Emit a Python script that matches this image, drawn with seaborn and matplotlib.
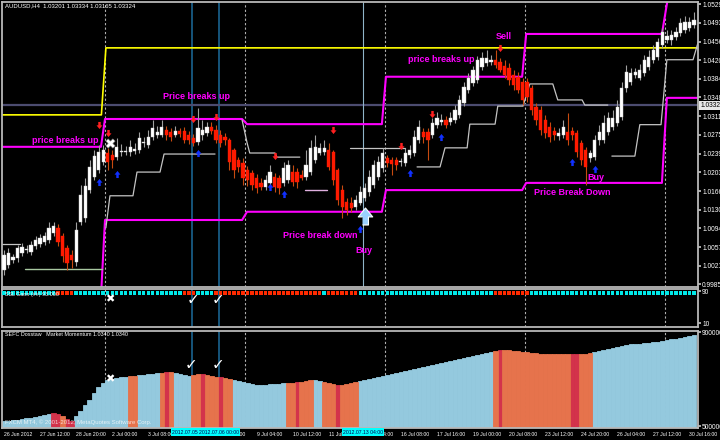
import numpy as np
import pandas as pd
import matplotlib
matplotlib.use("Agg")
import matplotlib.pyplot as plt
import matplotlib.transforms as mtransforms
import seaborn as sns

sns.set_theme(style="dark")
plt.rcParams["font.family"] = ["Liberation Sans", "DejaVu Sans"]

# ---------------- data (AUDUSD H4, 26 Jun - 30 Jul 2012) ----------------
open_ = [1.0013, 1.0023, 1.0033, 1.0037, 1.0046, 1.0052, 1.0048, 1.0060, 1.0063, 1.0067,
         1.0071, 1.0085, 1.0095, 1.0079, 1.0056, 1.0042, 1.0029, 1.0106, 1.0114, 1.0168,
         1.0194, 1.0207, 1.0223, 1.0240, 1.0236, 1.0232, 1.0242, 1.0242, 1.0242, 1.0244,
         1.0246, 1.0259, 1.0256, 1.0271, 1.0275, 1.0275, 1.0285, 1.0281, 1.0275, 1.0283,
         1.0283, 1.0275, 1.0269, 1.0261, 1.0275, 1.0279, 1.0291, 1.0285, 1.0275, 1.0271,
         1.0265, 1.0246, 1.0227, 1.0221, 1.0207, 1.0201, 1.0192, 1.0182, 1.0174, 1.0182,
         1.0194, 1.0192, 1.0182, 1.0188, 1.0203, 1.0203, 1.0197, 1.0194, 1.0203, 1.0227,
         1.0240, 1.0242, 1.0246, 1.0242, 1.0207, 1.0168, 1.0145, 1.0143, 1.0135, 1.0143,
         1.0153, 1.0164, 1.0178, 1.0194, 1.0211, 1.0230, 1.0227, 1.0227, 1.0223, 1.0221,
         1.0236, 1.0240, 1.0265, 1.0281, 1.0281, 1.0275, 1.0295, 1.0300, 1.0304, 1.0300,
         1.0304, 1.0314, 1.0337, 1.0362, 1.0376, 1.0382, 1.0407, 1.0415, 1.0417, 1.0421,
         1.0417, 1.0409, 1.0405, 1.0392, 1.0388, 1.0378, 1.0378, 1.0366, 1.0329, 1.0324,
         1.0304, 1.0291, 1.0283, 1.0273, 1.0275, 1.0281, 1.0283, 1.0279, 1.0259, 1.0246,
         1.0230, 1.0232, 1.0265, 1.0265, 1.0281, 1.0291, 1.0298, 1.0310, 1.0366, 1.0378,
         1.0392, 1.0386, 1.0395, 1.0407, 1.0421, 1.0426, 1.0450, 1.0459, 1.0459, 1.0465,
         1.0473, 1.0479, 1.0483, 1.0488]
close = [1.0042, 1.0046, 1.0038, 1.0056, 1.0058, 1.0054, 1.0062, 1.0071, 1.0075, 1.0079,
         1.0095, 1.0099, 1.0067, 1.0040, 1.0027, 1.0033, 1.0091, 1.0159, 1.0176, 1.0213,
         1.0235, 1.0242, 1.0246, 1.0223, 1.0227, 1.0252, 1.0244, 1.0244, 1.0252, 1.0248,
         1.0269, 1.0261, 1.0271, 1.0289, 1.0281, 1.0291, 1.0275, 1.0271, 1.0283, 1.0277,
         1.0265, 1.0265, 1.0259, 1.0289, 1.0285, 1.0291, 1.0283, 1.0265, 1.0259, 1.0265,
         1.0223, 1.0207, 1.0213, 1.0192, 1.0188, 1.0178, 1.0172, 1.0174, 1.0188, 1.0203,
         1.0174, 1.0172, 1.0211, 1.0217, 1.0184, 1.0184, 1.0192, 1.0217, 1.0250, 1.0252,
         1.0250, 1.0250, 1.0213, 1.0188, 1.0149, 1.0135, 1.0130, 1.0134, 1.0149, 1.0164,
         1.0172, 1.0194, 1.0217, 1.0223, 1.0240, 1.0221, 1.0219, 1.0217, 1.0225, 1.0240,
         1.0246, 1.0271, 1.0291, 1.0271, 1.0265, 1.0298, 1.0308, 1.0304, 1.0295, 1.0308,
         1.0324, 1.0343, 1.0368, 1.0386, 1.0401, 1.0421, 1.0424, 1.0424, 1.0421, 1.0411,
         1.0401, 1.0392, 1.0382, 1.0372, 1.0362, 1.0343, 1.0349, 1.0324, 1.0304, 1.0285,
         1.0279, 1.0271, 1.0275, 1.0279, 1.0291, 1.0265, 1.0275, 1.0242, 1.0227, 1.0213,
         1.0240, 1.0265, 1.0281, 1.0298, 1.0308, 1.0308, 1.0329, 1.0366, 1.0397, 1.0395,
         1.0397, 1.0401, 1.0421, 1.0426, 1.0440, 1.0456, 1.0475, 1.0467, 1.0469, 1.0475,
         1.0492, 1.0494, 1.0494, 1.0498]
high = [1.0052, 1.0056, 1.0044, 1.0062, 1.0065, 1.0062, 1.0069, 1.0079, 1.0083, 1.0087,
        1.0106, 1.0106, 1.0102, 1.0085, 1.0062, 1.0052, 1.0106, 1.0178, 1.0192, 1.0227,
        1.0246, 1.0256, 1.0256, 1.0250, 1.0246, 1.0269, 1.0258, 1.0254, 1.0265, 1.0259,
        1.0281, 1.0271, 1.0285, 1.0304, 1.0293, 1.0304, 1.0293, 1.0289, 1.0293, 1.0289,
        1.0291, 1.0283, 1.0277, 1.0328, 1.0304, 1.0300, 1.0300, 1.0295, 1.0285, 1.0279,
        1.0269, 1.0250, 1.0232, 1.0230, 1.0215, 1.0207, 1.0199, 1.0192, 1.0197, 1.0217,
        1.0201, 1.0197, 1.0223, 1.0227, 1.0217, 1.0211, 1.0207, 1.0246, 1.0265, 1.0275,
        1.0259, 1.0265, 1.0259, 1.0246, 1.0211, 1.0178, 1.0153, 1.0155, 1.0159, 1.0176,
        1.0182, 1.0207, 1.0227, 1.0234, 1.0250, 1.0236, 1.0232, 1.0232, 1.0230, 1.0250,
        1.0256, 1.0285, 1.0304, 1.0289, 1.0289, 1.0308, 1.0320, 1.0316, 1.0312, 1.0320,
        1.0333, 1.0353, 1.0378, 1.0395, 1.0409, 1.0428, 1.0436, 1.0440, 1.0430, 1.0440,
        1.0424, 1.0421, 1.0415, 1.0401, 1.0397, 1.0386, 1.0386, 1.0372, 1.0337, 1.0331,
        1.0314, 1.0300, 1.0291, 1.0289, 1.0304, 1.0318, 1.0291, 1.0285, 1.0265, 1.0252,
        1.0246, 1.0275, 1.0295, 1.0314, 1.0320, 1.0324, 1.0343, 1.0378, 1.0411, 1.0405,
        1.0405, 1.0413, 1.0430, 1.0440, 1.0450, 1.0463, 1.0483, 1.0479, 1.0479, 1.0485,
        1.0502, 1.0506, 1.0504, 1.0514]
low = [1.0003, 1.0017, 1.0027, 1.0029, 1.0040, 1.0046, 1.0042, 1.0054, 1.0058, 1.0062,
       1.0065, 1.0079, 1.0060, 1.0029, 1.0013, 1.0017, 1.0021, 1.0101, 1.0106, 1.0162,
       1.0188, 1.0201, 1.0217, 1.0207, 1.0211, 1.0227, 1.0234, 1.0236, 1.0234, 1.0238,
       1.0240, 1.0252, 1.0250, 1.0265, 1.0269, 1.0271, 1.0265, 1.0263, 1.0271, 1.0271,
       1.0259, 1.0257, 1.0254, 1.0256, 1.0265, 1.0273, 1.0277, 1.0259, 1.0252, 1.0256,
       1.0207, 1.0192, 1.0203, 1.0178, 1.0176, 1.0168, 1.0162, 1.0168, 1.0168, 1.0176,
       1.0165, 1.0160, 1.0176, 1.0182, 1.0176, 1.0172, 1.0188, 1.0188, 1.0197, 1.0221,
       1.0236, 1.0236, 1.0207, 1.0178, 1.0139, 1.0114, 1.0120, 1.0126, 1.0130, 1.0139,
       1.0147, 1.0157, 1.0172, 1.0188, 1.0203, 1.0213, 1.0197, 1.0207, 1.0215, 1.0215,
       1.0230, 1.0234, 1.0259, 1.0259, 1.0227, 1.0269, 1.0289, 1.0295, 1.0289, 1.0295,
       1.0298, 1.0308, 1.0331, 1.0356, 1.0370, 1.0376, 1.0401, 1.0409, 1.0411, 1.0405,
       1.0397, 1.0386, 1.0372, 1.0362, 1.0356, 1.0333, 1.0339, 1.0314, 1.0295, 1.0275,
       1.0269, 1.0262, 1.0265, 1.0265, 1.0269, 1.0256, 1.0265, 1.0232, 1.0217, 1.0178,
       1.0223, 1.0227, 1.0256, 1.0259, 1.0275, 1.0285, 1.0293, 1.0304, 1.0358, 1.0372,
       1.0386, 1.0382, 1.0390, 1.0401, 1.0415, 1.0421, 1.0444, 1.0453, 1.0450, 1.0459,
       1.0467, 1.0473, 1.0477, 1.0483]

# market momentum histogram (millions)
momentum = [5.21, 5.21, 5.26, 5.26, 5.30, 5.34, 5.34, 5.38, 5.43, 5.47, 5.51, 5.55,
            5.51, 5.43, 5.30, 5.21,
            5.43, 5.64, 5.89, 6.11, 6.40, 6.66, 6.83,
            6.96, 7.00, 7.04, 7.08, 7.08, 7.13, 7.13, 7.17, 7.17, 7.21, 7.21, 7.26, 7.26, 7.30,
            7.30, 7.26, 7.21, 7.17, 7.13, 7.17, 7.21, 7.21, 7.17, 7.13, 7.08, 7.08, 7.04,
            7.00, 6.96, 6.91, 6.87, 6.83, 6.79, 6.74, 6.74, 6.74, 6.79, 6.79, 6.79, 6.83, 6.83, 6.83, 6.87, 6.87,
            6.91, 6.96, 6.96, 6.91, 6.87, 6.83, 6.79, 6.74, 6.74, 6.79, 6.83, 6.87, 6.91, 6.96, 7.00, 7.04, 7.08, 7.13,
            7.17, 7.21, 7.26, 7.30, 7.34, 7.38, 7.43, 7.47, 7.51, 7.55, 7.60, 7.64, 7.68, 7.72, 7.77, 7.81,
            7.85, 7.89, 7.94, 7.98, 8.02, 8.06, 8.11, 8.15, 8.19, 8.23,
            8.23, 8.23, 8.19, 8.19, 8.15, 8.15, 8.11, 8.11, 8.06, 8.06, 8.06, 8.06,
            8.06, 8.06, 8.06, 8.06, 8.06, 8.06, 8.06, 8.11, 8.15, 8.19, 8.23, 8.28, 8.32, 8.36, 8.40,
            8.45, 8.47, 8.49, 8.51, 8.53, 8.55, 8.57, 8.59, 8.62, 8.66, 8.70, 8.72, 8.74, 8.79, 8.83, 8.87]
# colour state of each histogram bar: b = rising (blue), o = falling (orange), r = strong fall (crimson)
hist_runs = [("b", 11), ("r", 2), ("o", 1), ("r", 2), ("b", 12), ("o", 2), ("b", 5), ("o", 1), ("r", 1),
             ("o", 1), ("b", 4), ("o", 2), ("r", 1), ("o", 3), ("r", 1), ("o", 2), ("b", 12),
             ("o", 2), ("r", 1), ("o", 3), ("b", 2), ("o", 3), ("r", 1), ("o", 4), ("b", 30),
             ("o", 1), ("r", 1), ("o", 15), ("r", 2), ("o", 3), ("b", 23)]
strip_runs = [("c", 12), ("r", 4), ("c", 24), ("r", 3), ("c", 4), ("r", 24), ("c", 1), ("r", 7),
              ("c", 30), ("r", 8), ("c", 37)]

# indicator levels (bar position, price)
yellow_x = [-0.5, 21.6, 22.6, 154.5]
yellow_y = [1.0314, 1.0314, 1.0444, 1.0444]
upper_x = [-0.5, 21.5, 22.4, 52.8, 53.9, 83.8, 84.7, 114.9, 115.8, 145.9, 147.3]
upper_y = [1.0252, 1.0252, 1.0306, 1.0306, 1.0296, 1.0296, 1.0388, 1.0388, 1.0471, 1.0471, 1.0545]
lower_x = [-0.5, 21.5, 22.4, 52.8, 53.9, 83.8, 84.7, 114.9, 115.8, 145.9, 147.0, 154.5]
lower_y = [0.9960, 0.9960, 1.0110, 1.0110, 1.0126, 1.0126, 1.0168, 1.0168, 1.0182, 1.0182, 1.0347, 1.0347]
trail_segments = [
    ([-0.5, 3.5], [1.0064, 1.0064]),
    ([22.6, 23.5, 28.6, 29.5, 34.6, 35.5, 46.8], [1.0095, 1.0157, 1.0157, 1.0203, 1.0203, 1.0238, 1.0238]),
    ([52.8, 53.9, 54.5, 60.1, 60.5, 65.6], [1.0304, 1.0260, 1.0240, 1.0240, 1.0232, 1.0232]),
    ([76.7, 88.9], [1.0250, 1.0250]),
    ([91.6, 96.7, 97.8, 102.7, 103.3, 108.9, 109.5, 115.1, 116.6, 121.7, 122.8, 128.2, 128.8, 133.9],
     [1.0213, 1.0213, 1.0250, 1.0250, 1.0296, 1.0296, 1.0331, 1.0331, 1.0374, 1.0374, 1.0343, 1.0343, 1.0333, 1.0333]),
    ([134.8, 139.9, 141.0, 145.7, 147.0, 152.8, 153.9], [1.0234, 1.0234, 1.0295, 1.0295, 1.0421, 1.0421, 1.0454]),
]
green_x, green_y = [4.7, 21.7], [1.0015, 1.0015]
lilac_x, lilac_y = [66.7, 71.6], [1.0168, 1.0168]
sell_arrows_x = [21, 23, 42, 47, 60, 73, 88, 95, 110]
sell_arrows_y = [1.0295, 1.0279, 1.0306, 1.0310, 1.0234, 1.0285, 1.0254, 1.0316, 1.0444]
buy_arrows_x = [21, 25, 43, 59, 62, 79, 90, 97, 126, 131]
buy_arrows_y = [1.0184, 1.0199, 1.0240, 1.0174, 1.0161, 1.0093, 1.0201, 1.0271, 1.0223, 1.0209]
current_price = 1.03324
price_ticks = [0.99850, 1.00210, 1.00570, 1.00940, 1.01300, 1.01660, 1.02030, 1.02390,
               1.02750, 1.03110, 1.03480, 1.03840, 1.04200, 1.04560, 1.04930, 1.05290]
time_ticks = list(range(0, 153, 8))
time_labels = ["26 Jun 2012", "27 Jun 12:00", "28 Jun 20:00", "2 Jul 00:00", "3 Jul 08:00",
               "4 Jul 16:00", "6 Jul 00:00", "9 Jul 04:00", "10 Jul 12:00", "11 Jul 20:00",
               "13 Jul 04:00", "16 Jul 08:00", "17 Jul 16:00", "19 Jul 00:00", "20 Jul 08:00",
               "23 Jul 12:00", "24 Jul 20:00", "26 Jul 04:00", "27 Jul 12:00", "30 Jul 16:00"]
week_seps = [22.5, 53.5, 84.5, 115.5, 146.5]
blue_vlines = [41.7, 47.7]
buy_vline = 79.6

# ---------------- figure ----------------
W, H = 720, 440
fig = plt.figure(figsize=(7.2, 4.4), dpi=100, facecolor="black")

def px_axes(x0, y0, x1, y1):
    return fig.add_axes([x0 / W, 1 - y1 / H, (x1 - x0) / W, (y1 - y0) / H])

ax1 = px_axes(2, 2, 698, 287)
ax2 = px_axes(2, 289, 698, 327)
ax3 = px_axes(2, 331, 698, 428)
XL = (-0.44, 153.9)
for ax in (ax1, ax2, ax3):
    ax.set_facecolor("black")
    ax.set_xlim(*XL)
    ax.grid(False)
    for s in ax.spines.values():
        s.set_color("#b8b8b8")
        s.set_linewidth(1.3)
    ax.yaxis.tick_right()
    ax.tick_params(axis="y", colors="#c0c0c0", labelcolor="white", labelsize=4.8, length=2, pad=1)
    for v in week_seps:
        ax.axvline(v, color="#b0b0b0", lw=0.8, ls=(0, (2, 2)), zorder=1)
    for v in blue_vlines:
        ax.axvline(v, color="#1c6c9c", lw=1.1, zorder=1)
ax1.set_xticks([]); ax2.set_xticks([])

# ---- main price panel ----
o = np.array(open_); c = np.array(close); h = np.array(high); l = np.array(low)
n = len(c)
idx = np.arange(n)
bull = c >= o
ax1.axhline(current_price, color="#4c4c70", lw=1.6, zorder=1)
ax1.axvline(buy_vline, color="#8fb4c8", lw=0.8, zorder=1)
ax1.plot(yellow_x, yellow_y, color="#ffff00", lw=1.2, zorder=2)
ax1.plot(upper_x, upper_y, color="#ff00ff", lw=1.5, zorder=2)
ax1.plot(lower_x, lower_y, color="#ff00ff", lw=1.5, zorder=2)
for sx, sy in trail_segments:
    ax1.plot(sx, sy, color="#c4c4c4", lw=0.9, zorder=2)
ax1.plot(green_x, green_y, color="#a8c8a0", lw=1.0, zorder=2)
ax1.plot(lilac_x, lilac_y, color="#e0b0e0", lw=1.0, zorder=2)

wick_col = np.where(bull, "#a0a0a0", "#c84a10")
ax1.vlines(idx, l, h, colors=wick_col, lw=0.8, zorder=3)
body_h = np.maximum(np.abs(c - o), 0.00012)
ax1.bar(idx, body_h, bottom=np.minimum(o, c), width=0.72,
        color=np.where(bull, "#ffffff", "#ff1a00"),
        edgecolor=np.where(bull, "#d0d0d0", "#ff1a00"), linewidth=0.3, zorder=4)

down_m = [(-0.35, 1), (0.35, 1), (0.35, 0.05), (0.85, 0.05), (0, -1), (-0.85, 0.05), (-0.35, 0.05)]
up_m = [(x, -y) for x, y in down_m]
ax1.scatter(sell_arrows_x, sell_arrows_y, marker=down_m, s=26, color="#ff2020", linewidths=0, zorder=6)
ax1.scatter(buy_arrows_x, buy_arrows_y, marker=up_m, s=26, color="#1030ff", linewidths=0, zorder=6)
ax1.scatter([80], [1.0118], marker=up_m, s=150, facecolor="#9ad0ff", edgecolor="white", linewidths=0.8, zorder=6)
ax1.scatter([23.5], [1.0260], marker="X", s=45, color="white", edgecolor="#808080", linewidths=0.4, zorder=7)

ax1.set_ylim(0.9980, 1.0533)
ax1.set_yticks(price_ticks)
ax1.set_yticklabels([f"{v:.5f}" for v in price_ticks])
ax1.text(1.003, current_price, f"{current_price:.5f}", transform=mtransforms.blended_transform_factory(ax1.transAxes, ax1.transData),
         fontsize=4.8, color="black", va="center", ha="left", clip_on=False,
         bbox=dict(boxstyle="square,pad=0.15", fc="#e8e8e8", ec="none"), zorder=10)

notes = [(6.2, 1.0265, "price breaks up"), (35.3, 1.0349, "Price breaks up"),
         (61.9, 1.0079, "Price break down"), (78.0, 1.0050, "Buy"),
         (89.6, 1.0422, "price breaks up"), (109.0, 1.0467, "Sell"),
         (129.3, 1.0192, "Buy"), (117.5, 1.0163, "Price Break Down")]
for x, y, t in notes:
    ax1.text(x, y, t, color="#ff00ff", fontsize=6.5, fontweight="bold", va="center", ha="left", zorder=8)

fig.text(5 / W, 1 - 6 / H, "AUDUSD,H4  1.03201 1.03334 1.03165 1.03324", color="white", fontsize=4.3, va="center", ha="left")

# ---- signal strip ----
strip_cols = [k for k, m in strip_runs for _ in range(m)][:n]
ax2.scatter(idx, np.full(n, 85), marker="s", s=6, linewidths=0,
            c=["#00e8e8" if k == "c" else "#ff2a00" for k in strip_cols], zorder=3)
ax2.set_ylim(0, 95)
ax2.set_yticks([10, 90])
ax2.set_yticklabels(["10", "90"])
ax2.text(23.5, 70, "✖", color="white", fontsize=8, ha="center", va="center", zorder=5)
for xv in (42, 47.5):
    ax2.text(xv, 67, "✓", color="white", fontsize=11, fontweight="bold", ha="center", va="center", zorder=5)
ax2.text(0.004, 0.86, "SSL Gann (##) 93.000", transform=ax2.transAxes, color="white", fontsize=3.9,
         va="center", ha="left", zorder=5)

# ---- market momentum histogram (seaborn) ----
hist_cols = [k for k, m in hist_runs for _ in range(m)][:n]
df = pd.DataFrame({"bar": idx, "mom": np.array(momentum[:n]) * 1e6, "state": hist_cols})
pal = {"b": "#87ceeb", "o": "#ff6633", "r": "#ee1838"}
sns.barplot(data=df, x="bar", y="mom", hue="state", palette=pal, dodge=False, width=1.0,
            native_scale=True, legend=False, errorbar=None, ax=ax3, zorder=2)
edge = {"#87ceeb": "#4694c8", "#ff6633": "#c8451e", "#ee1838": "#b01028"}
for p in ax3.patches:
    fc = matplotlib.colors.to_hex(p.get_facecolor())
    p.set_edgecolor(edge.get(fc, fc))
    p.set_linewidth(0.6)
ax3.set_xlim(*XL)
ax3.set_ylim(4.915e6, 9.0426e6)
ax3.set_yticks([5e6, 9e6])
ax3.set_yticklabels(["5000000", "9000000"])
ax3.set_xlabel(""); ax3.set_ylabel("")
ax3.set_xticks(time_ticks)
ax3.set_xticklabels(time_labels, ha="left")
ax3.tick_params(axis="x", colors="#c0c0c0", labelcolor="white", labelsize=3.7, length=2, pad=1)
ax3.text(23.5, 7.0e6, "✖", color="white", fontsize=8, ha="center", va="center", zorder=5)
for xv in (41.5, 47.5):
    ax3.text(xv, 7.6e6, "✓", color="white", fontsize=11, fontweight="bold", ha="center", va="center", zorder=5)
ax3.text(0.004, 0.96, "SEFC Dosstaw   Market Momentum 1.0340 1.0340", transform=ax3.transAxes,
         color="white", fontsize=3.9, va="center", ha="left", zorder=5)
ax3.text(0.004, 0.06, "FXCM MT4, © 2001-2012, MetaQuotes Software Corp.", transform=ax3.transAxes,
         color="white", alpha=0.75, fontsize=4.3, va="center", ha="left", zorder=5)

# highlighted date labels of the vertical lines
for xv, t in [(41.7, "2012.07.05 00:00"), (47.7, "2012.07.06 00:00"), (79.6, "2012.07.13 04:00")]:
    xf = (2 + (xv - XL[0]) / (XL[1] - XL[0]) * 696) / W
    fig.text(xf, 1 - 432 / H, t, color="#000050", fontsize=3.7, ha="center", va="center",
             bbox=dict(boxstyle="square,pad=0.25", fc="#00ffff", ec="none"))

fig.savefig("out.png", dpi=100, facecolor="black")
